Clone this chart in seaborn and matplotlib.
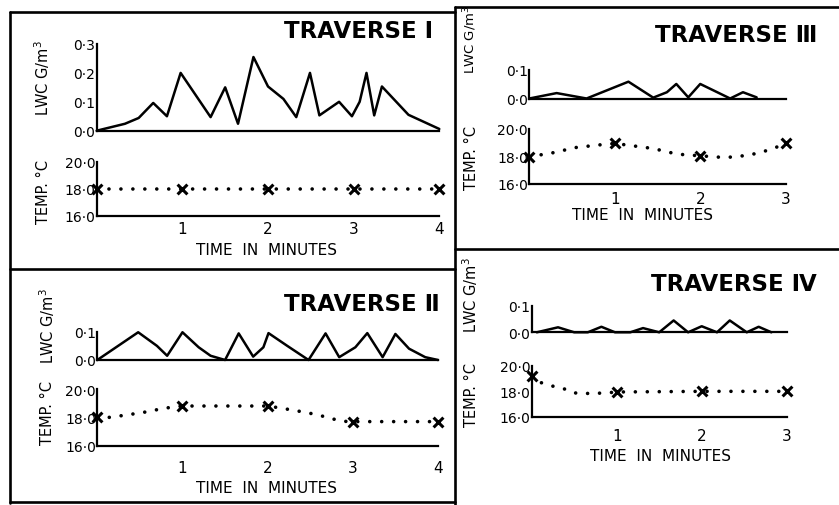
import pandas as pd
import seaborn as sns
import matplotlib.pyplot as plt
from matplotlib.lines import Line2D

# LWC traces (time in minutes, g/m3)
lwc1_time = [0, 0.33, 0.49, 0.66, 0.82, 0.98, 1.33, 1.5, 1.65, 1.83, 2.0, 2.18, 2.33, 2.49,
             2.6, 2.83, 2.98, 3.07, 3.15, 3.24, 3.33, 3.64, 4.0]
lwc1_vals = [0.0, 0.024, 0.044, 0.096, 0.05, 0.2, 0.047, 0.15, 0.024, 0.255, 0.153, 0.11, 0.047, 0.2,
             0.053, 0.1, 0.05, 0.1, 0.2, 0.053, 0.153, 0.055, 0.006]

lwc2_time = [0, 0.48, 0.70, 0.82, 1.0, 1.19, 1.33, 1.5, 1.66, 1.83, 1.95, 2.01, 2.23, 2.48,
             2.68, 2.84, 3.03, 3.17, 3.35, 3.5, 3.66, 3.85, 4.0]
lwc2_vals = [0.0, 0.098, 0.05, 0.015, 0.098, 0.045, 0.015, 0.0, 0.094, 0.012, 0.045, 0.095, 0.05, 0.0,
             0.094, 0.01, 0.045, 0.095, 0.01, 0.092, 0.04, 0.01, 0.0]

lwc3_time = [0, 0.32, 0.67, 1.16, 1.45, 1.61, 1.72, 1.86, 2.0, 2.35, 2.5, 2.66]
lwc3_vals = [0.0, 0.019, 0.0, 0.059, 0.003, 0.022, 0.051, 0.004, 0.051, 0.0, 0.022, 0.004]

lwc4_time = [0.06, 0.31, 0.5, 0.66, 0.82, 0.98, 1.16, 1.31, 1.5, 1.67, 1.84, 2.0, 2.18, 2.33,
             2.53, 2.67, 2.82]
lwc4_vals = [0.0, 0.019, 0.0, 0.0, 0.021, 0.0, 0.0, 0.016, 0.0, 0.045, 0.0, 0.023, 0.0, 0.045,
             0.0, 0.021, 0.0]

# temperature readings (crosses) once a minute
temp1_x = [0, 1, 2, 3, 4]
temp1_y = [18.0, 18.0, 18.0, 18.0, 18.0]
temp2_x = [0, 1, 2, 3, 4]
temp2_y = [18.0, 18.8, 18.8, 17.7, 17.7]
temp3_x = [0, 1, 2, 3]
temp3_y = [18.0, 18.95, 18.05, 19.0]
temp4_x = [0, 1, 2, 3]
temp4_y = [19.2, 17.95, 18.0, 18.0]

# dotted temperature curves
curve1_x = [0, 1, 2, 3, 4]
curve1_y = [18.0, 18.0, 18.0, 18.0, 18.0]
curve2_x = [0, 0.15, 0.38, 0.59, 0.78, 1.0, 2.0, 2.15, 2.38, 2.58, 2.77, 2.9, 3.0, 4.0]
curve2_y = [18.0, 18.0, 18.2, 18.4, 18.64, 18.8, 18.8, 18.66, 18.42, 18.19, 17.88, 17.72, 17.7, 17.7]
curve3_x = [0, 0.24, 0.54, 0.83, 1.0, 1.22, 1.45, 1.73, 2.0, 2.27, 2.43, 2.66, 2.86, 3.0]
curve3_y = [18.0, 18.22, 18.65, 18.85, 18.95, 18.77, 18.58, 18.17, 18.05, 17.93, 17.98, 18.22, 18.58, 19.0]
curve4_x = [0, 0.1, 0.22, 0.38, 0.49, 0.69, 0.88, 1.0, 2.0, 3.0]
curve4_y = [19.2, 18.7, 18.45, 18.2, 17.88, 17.83, 17.88, 17.95, 18.0, 18.0]

titles = ["TRAVERSE \u2160", "TRAVERSE \u2161", "TRAVERSE \u2162", "TRAVERSE \u2163"]
lwc_ticks_1 = [0.0, 0.1, 0.2, 0.3]
lwc_ticks = [0.0, 0.1]
temp_ticks = [16, 18, 20]
temp_labels = ["16\u00b70", "18\u00b70", "20\u00b70"]

sns.set_style("white")
plt.rcParams["font.family"] = ["DejaVu Sans"]
plt.rcParams["text.color"] = "black"
plt.rcParams["xtick.color"] = "black"
plt.rcParams["ytick.color"] = "black"
plt.rcParams["axes.labelcolor"] = "black"

W, H = 839, 506
fig = plt.figure(figsize=(W / 100, H / 100), dpi=100)


def px_axes(x0, x1, ytop, ybot):
    return fig.add_axes([x0 / W, 1 - ybot / H, (x1 - x0) / W, (ybot - ytop) / H])


def style_axes(ax, xmax, show_xlabels, xpad=1):
    ax.set_facecolor("none")
    for side in ["top", "right"]:
        ax.spines[side].set_visible(False)
    for side in ["left", "bottom"]:
        ax.spines[side].set_color("black")
        ax.spines[side].set_linewidth(1.6)
    ax.set_xlim(0, xmax)
    ax.set_xticks(list(range(1, xmax + 1)))
    ax.tick_params(axis="both", direction="in", length=5, width=1.4, color="black")
    ax.tick_params(axis="y", labelsize=10, pad=1)
    ax.tick_params(axis="x", labelsize=11, pad=xpad, labelbottom=show_xlabels)
    ax.set_xlabel("")
    ax.set_ylabel("")


def lwc_panel(rect, t, v, xmax, yticks):
    ax = px_axes(*rect)
    sns.lineplot(x=t, y=v, ax=ax, color="black", linewidth=1.8, estimator=None,
                 sort=False, clip_on=False)
    style_axes(ax, xmax, False)
    ax.set_ylim(0, yticks[-1])
    ax.set_yticks(yticks)
    ax.set_yticklabels([f"{y:.1f}".replace(".", "\u00b7") for y in yticks])
    return ax


def temp_panel(rect, cx, cy, px, py, xmax, xpad):
    ax = px_axes(*rect)
    sns.lineplot(x=cx, y=cy, ax=ax, color="black", linewidth=2.6, estimator=None,
                 sort=False, clip_on=False, linestyle=(0, (0.01, 3.3)),
                 dash_capstyle="round")
    sns.scatterplot(x=px, y=py, ax=ax, marker="x", s=50, color="black",
                    linewidth=2.2, clip_on=False, zorder=5)
    style_axes(ax, xmax, True, xpad)
    ax.set_ylim(16, 20)
    ax.set_yticks(temp_ticks)
    ax.set_yticklabels(temp_labels)
    return ax


# Traverse I
lwc_panel((96.7, 439.3, 45, 131.7), lwc1_time, lwc1_vals, 4, lwc_ticks_1)
temp_panel((96.7, 439.3, 163, 216.7), curve1_x, curve1_y, temp1_x, temp1_y, 4, 3.8)
# Traverse II
lwc_panel((97.3, 438, 332.7, 361), lwc2_time, lwc2_vals, 4, lwc_ticks)
temp_panel((97.3, 438, 390, 446.7), curve2_x, curve2_y, temp2_x, temp2_y, 4, 10)
# Traverse III
lwc_panel((529.3, 785.7, 71, 99.5), lwc3_time, lwc3_vals, 3, lwc_ticks)
temp_panel((529.3, 785.7, 130, 185), curve3_x, curve3_y, temp3_x, temp3_y, 3, 5)
# Traverse IV
lwc_panel((531.7, 786.7, 307, 333.3), lwc4_time, lwc4_vals, 3, lwc_ticks)
temp_panel((531.7, 786.7, 366.7, 418), curve4_x, curve4_y, temp4_x, temp4_y, 3, 8)


def ftext(x, y, s, **kw):
    fig.text(x / W, 1 - y / H, s, **kw)


# titles
for (x, y), s in zip([(433, 32), (440, 305), (817, 35), (817, 285)], titles):
    ftext(x, y, s, ha="right", va="center", fontsize=16.5, fontweight="bold")

# axis labels
for x, y, fs in [(42, 78, 10.5), (47, 326, 10.5), (470, 40, 9.5), (470, 295, 10.5)]:
    ftext(x, y, "LWC G/m$^3$", rotation=90, ha="center", va="center", fontsize=fs)
for x, y in [(44, 192), (47, 413), (472, 158), (472, 395)]:
    ftext(x, y, "TEMP. \u00b0C", rotation=90, ha="center", va="center", fontsize=10.5)
for x, y in [(267, 251), (267, 489), (642, 216), (660, 457)]:
    ftext(x, y, "TIME  IN  MINUTES", ha="center", va="center", fontsize=11)

# panel frames
frame = [((10, 10), (13, 504)), ((10, 455), (13, 13)), ((10, 455), (270, 270)),
         ((10, 455), (503, 503)), ((455, 455), (8, 506)), ((455, 839), (8, 8)),
         ((455, 839), (250, 250))]
for xs, ys in frame:
    fig.add_artist(Line2D([x / W for x in xs], [1 - y / H for y in ys],
                          color="black", linewidth=1.9))

plt.savefig("out.png", dpi=100)
